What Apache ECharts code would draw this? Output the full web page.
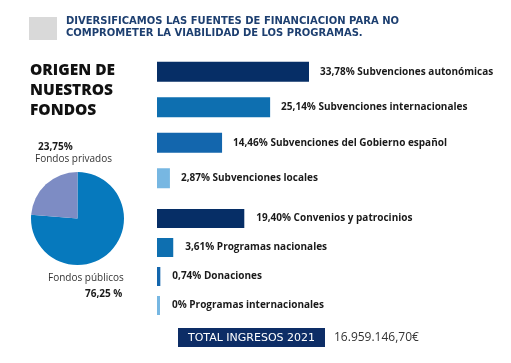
<!DOCTYPE html>
<html><head><meta charset="utf-8">
<script src="https://cdn.jsdelivr.net/npm/echarts@6/dist/echarts.min.js"></script>
<style>html,body{margin:0;padding:0;background:#fff}#c{width:511px;height:363px}</style>
</head><body><div id="c"></div>
<script>
// ---- data ----
var groupA = ['Subvenciones autonómicas','Subvenciones internacionales','Subvenciones del Gobierno español','Subvenciones locales'];
var groupAValues = [33.78, 25.14, 14.46, 2.87];
var groupALabels = ['33,78%','25,14%','14,46%','2,87%'];
var groupB = ['Convenios y patrocinios','Programas nacionales','Donaciones','Programas internacionales'];
var groupBValues = [19.40, 3.61, 0.74, 0];
var groupBLabels = ['19,40%','3,61%','0,74%','0%'];
var pieNames = ['Fondos públicos','Fondos privados'];
var pieValues = [76.25, 23.75];
var pieLabels = ['76,25 %','23,75%'];
var headerLines = ['DIVERSIFICAMOS LAS FUENTES DE FINANCIACION PARA NO','COMPROMETER LA VIABILIDAD DE LOS PROGRAMAS.'];
var titleLines = ['ORIGEN DE','NUESTROS','FONDOS'];
var totalLabel = 'TOTAL INGRESOS 2021';
var totalValue = '16.959.146,70€';

var barColors = ['#062e66','#0e6fb0','#1366ad','#77b7e2'];
var FONT = '"Open Sans", sans-serif';
var WIDE = '"DejaVu Sans", sans-serif';

function barData(vals){
  return vals.map(function(v,i){ return {value:v, itemStyle:{color:barColors[i]}}; });
}
function labelFmt(labels, names){
  return function(p){ return labels[p.dataIndex] + ' ' + names[p.dataIndex]; };
}

var chart = echarts.init(document.getElementById('c'), null, {renderer:'canvas'});
var axisMax = 35.5;
var option = {
  animation:false,
  grid:[
    {left:157, top:54, width:152*axisMax/33.78, height:142},
    {left:157, top:204, width:152*axisMax/33.78, height:116}
  ],
  xAxis:[
    {gridIndex:0, type:'value', min:0, max:axisMax, show:false},
    {gridIndex:1, type:'value', min:0, max:axisMax, show:false}
  ],
  yAxis:[
    {gridIndex:0, type:'category', data:groupA, inverse:true, show:false},
    {gridIndex:1, type:'category', data:groupB, inverse:true, show:false}
  ],
  series:[
    {type:'bar', xAxisIndex:0, yAxisIndex:0, data:barData(groupAValues), barWidth:20, barMinHeight:3,
     label:{show:true, position:'right', distance:11, formatter:labelFmt(groupALabels, groupA),
            fontFamily:FONT, fontSize:10, fontWeight:'bold', color:'#1a1a1a'}},
    {type:'bar', xAxisIndex:1, yAxisIndex:1, data:barData(groupBValues), barWidth:19, barMinHeight:3,
     label:{show:true, position:'right', distance:12, formatter:labelFmt(groupBLabels, groupB),
            fontFamily:FONT, fontSize:10, fontWeight:'bold', color:'#1a1a1a'}},
    {type:'pie', center:[77.5,218.5], radius:46.5, startAngle:90, clockwise:true,
     label:{show:false}, labelLine:{show:false}, silent:true,
     data:[
       {name:pieNames[0], value:pieValues[0], itemStyle:{color:'#0679bd'}},
       {name:pieNames[1], value:pieValues[1], itemStyle:{color:'#7d8cc4'}}
     ]}
  ],
  graphic:[
    {type:'rect', shape:{x:29,y:17,width:28,height:23}, style:{fill:'#d9d9d9'}},
    {type:'text', x:66, y:21, style:{text:headerLines[0], fill:'#1d3f70', font:'bold 10px '+WIDE, textVerticalAlign:'middle'}},
    {type:'text', x:66, y:33, style:{text:headerLines[1], fill:'#1d3f70', font:'bold 10px '+WIDE, textVerticalAlign:'middle'}},
    {type:'text', x:30, y:70.5, style:{text:titleLines[0], fill:'#111', font:'800 15.5px '+FONT, textVerticalAlign:'middle'}},
    {type:'text', x:30, y:90.5, style:{text:titleLines[1], fill:'#111', font:'800 15.5px '+FONT, textVerticalAlign:'middle'}},
    {type:'text', x:30, y:110.5, style:{text:titleLines[2], fill:'#111', font:'800 15.5px '+FONT, textVerticalAlign:'middle'}},
    {type:'text', x:38, y:147, style:{text:pieLabels[1], fill:'#1a1a1a', font:'bold 10px '+FONT, textVerticalAlign:'middle'}},
    {type:'text', x:35, y:159, style:{text:pieNames[1], fill:'#333', font:'10px '+FONT, textVerticalAlign:'middle'}},
    {type:'text', x:48, y:278, style:{text:pieNames[0], fill:'#333', font:'10px '+FONT, textVerticalAlign:'middle'}},
    {type:'text', x:85, y:294, style:{text:pieLabels[0], fill:'#1a1a1a', font:'bold 10px '+FONT, textVerticalAlign:'middle'}},
    {type:'rect', shape:{x:178,y:328,width:147,height:19}, style:{fill:'#0d2d66'}},
    {type:'text', x:251.5, y:338, style:{text:totalLabel, fill:'#fff', font:'11px '+WIDE, textAlign:'center', textVerticalAlign:'middle'}},
    {type:'text', x:334, y:337.5, style:{text:totalValue, fill:'#333', font:'12px '+FONT, textVerticalAlign:'middle'}}
  ]
};
chart.setOption(option);
</script>
</body></html>
